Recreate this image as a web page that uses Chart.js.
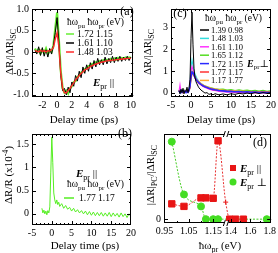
<!DOCTYPE html>
<html>
<head>
<meta charset="utf-8">
<script src="https://cdn.jsdelivr.net/npm/chart.js@4.4.0/dist/chart.umd.min.js"></script>
<style>
html, body { margin: 0; padding: 0; background: #fff; }
#wrap { position: relative; width: 278px; height: 253px; overflow: hidden; }
canvas { position: absolute; }
</style>
</head>
<body>
<div id="wrap">
  <canvas id="chart-a" width="138" height="125" style="left:0;top:0"></canvas>
  <canvas id="chart-c" width="140" height="125" style="left:138px;top:0"></canvas>
  <canvas id="chart-b" width="138" height="128" style="left:0;top:125px"></canvas>
  <canvas id="chart-d" width="140" height="128" style="left:138px;top:125px"></canvas>
</div>
<script>
// ---- panel (a): E_pr parallel, normalised dR
var timeA = [-3, -2.75, -2.5, -2.25, -2, -1.75, -1.5, -1.25, -1, -0.75, -0.5, -0.25, 0, 0.25, 0.5, 0.75, 1, 1.25, 1.5, 1.75, 2,
    2.25, 2.5, 2.75, 3, 3.25, 3.5, 3.75, 4, 4.25, 4.5, 4.75, 5, 5.25, 5.5, 5.75, 6, 6.25, 6.5, 6.75, 7,
    7.25, 7.5, 7.75, 8, 8.25, 8.5, 8.75, 9, 9.25, 9.5, 9.75, 10];
var a172 = [0.08, 0.00, 0.06, -0.04, 0.05, -0.02, 0.08, -0.05, 0.04, 0.00, 0.15, 0.55,
    0.92, 0.25, -0.45, -0.85, -0.95, -0.90, -0.97, -0.85, -0.80,
    -0.70, -0.68, -0.58, -0.55, -0.48, -0.46, -0.40, -0.38, -0.33, -0.33, -0.28, -0.28,
    -0.24, -0.25, -0.21, -0.23, -0.19, -0.21, -0.18, -0.20, -0.16, -0.19, -0.15, -0.18,
    -0.14, -0.17, -0.14, -0.16, -0.13, -0.15, -0.13, -0.14];
var a161 = [0.05, -0.05, 0.12, -0.08, 0.10, -0.10, 0.05, -0.12, 0.08, -0.05, 0.15, 0.45,
    0.80, 0.20, -0.55, -0.90, -0.85, -1.00, -0.82, -0.95, -0.70,
    -0.80, -0.55, -0.68, -0.45, -0.60, -0.35, -0.50, -0.30, -0.45, -0.25, -0.40, -0.20,
    -0.35, -0.15, -0.30, -0.18, -0.30, -0.12, -0.28, -0.15, -0.25, -0.10, -0.25, -0.12,
    -0.22, -0.10, -0.22, -0.12, -0.20, -0.10, -0.20, -0.12];
var a148 = [0.03, 0.02, 0.00, 0.04, 0.01, 0.03, 0.00, 0.03, 0.02, 0.05, 0.10, 0.30,
    0.45, 0.10, -0.50, -0.85, -0.95, -0.95, -0.90, -0.85, -0.78,
    -0.72, -0.65, -0.60, -0.55, -0.50, -0.46, -0.42, -0.40, -0.37, -0.34, -0.32, -0.30,
    -0.28, -0.27, -0.25, -0.24, -0.23, -0.22, -0.21, -0.20, -0.20, -0.19, -0.19, -0.18,
    -0.18, -0.17, -0.17, -0.16, -0.16, -0.15, -0.15, -0.15];
var aXTicks = [-2, 0, 2, 4, 6, 8, 10];
var aYTicks = [-1, -0.5, 0, 0.5, 1];
var aYLabels = ['-1.0', '-0.5', '0', '0.5', '1.0'];

// ---- panel (b): dR/R, 1.77 / 1.17 eV
var timeB = [-2.5, -2.25, -2, -1.75, -1.5, -1.25, -1, -0.75, -0.5, -0.25, 0, 0.25, 0.5, 0.75, 1, 1.25, 1.5, 1.75, 2,
    2.5, 3, 3.5, 4, 4.5, 5, 5.5, 6, 6.5, 7, 7.5, 8, 8.5, 9, 9.5, 10,
    10.5, 11, 11.5, 12, 12.5, 13, 13.5, 14, 14.5, 15, 15.5, 16, 16.5, 17, 17.5, 18, 18.5, 19, 19.5, 20];
var b177 = [0.12, 0.02, 0.08, 0.00, 0.06, -0.02, 0.07, 0.02, 0.15, 0.90, 1.65, 1.10, 0.45, 0.30, 0.22, 0.30, 0.20, 0.25, 0.16,
    0.22, 0.12, 0.18, 0.10, 0.14, 0.06, 0.12, 0.04, 0.09, 0.02, 0.07, 0.00, 0.06, -0.02, 0.05, -0.03,
    0.04, -0.04, 0.03, -0.04, 0.03, -0.05, 0.02, -0.05, 0.03, -0.06, 0.02, -0.05, 0.01, -0.07, 0.02, -0.06, 0.00, -0.08, 0.00, -0.06];
var timeXTicks = [-5, 0, 5, 10, 15, 20];
var bYTicks = [0, 0.5, 1, 1.5];

// ---- panel (c): E_pr perpendicular, normalised dR
var timeC = [-3, -2.75, -2.5, -2.25, -2, -1.75, -1.5, -1.25, -1, -0.75, -0.5, -0.25, 0, 0.25, 0.5, 0.75, 1, 1.25, 1.5, 1.75, 2,
    2.5, 3, 3.5, 4, 4.5, 5, 5.5, 6, 7, 8, 9, 10, 11, 12, 13, 14, 15, 16, 17, 18, 19, 20];
var c139 = [0.10, -0.05, 0.15, 0.00, 0.20, -0.05, 0.10, 0.05, 0.25, 0.00, 0.20, 0.60,
    2.50, 3.70, 2.20, 1.10, 0.70, 0.50, 0.40, 0.30, 0.22,
    0.12, 0.05, -0.02, 0.00, -0.08, -0.05, -0.10, -0.05,
    -0.10, -0.06, -0.10, -0.05, -0.08, -0.03, -0.06, -0.02, -0.05, 0.00, -0.04, 0.00, -0.03, 0.00];
var c148 = [0.05, 0.10, 0.00, 0.08, 0.02, 0.10, 0.03, 0.08, 0.05, 0.10, 0.12, 0.40,
    1.20, 1.50, 1.25, 1.00, 0.85, 0.75, 0.65, 0.58, 0.50,
    0.42, 0.35, 0.30, 0.25, 0.22, 0.18, 0.16, 0.14,
    0.10, 0.08, 0.07, 0.05, 0.06, 0.04, 0.05, 0.03, 0.04, 0.02, 0.04, 0.02, 0.03, 0.02];
var c161 = [0.05, 0.35, 0.05, 0.10, 0.00, 0.08, 0.02, 0.10, 0.03, 0.08, 0.10, 0.35,
    1.00, 1.20, 1.05, 0.85, 0.72, 0.62, 0.55, 0.48, 0.42,
    0.35, 0.28, 0.24, 0.20, 0.16, 0.14, 0.10, 0.10,
    0.06, 0.05, 0.02, 0.03, 0.00, 0.02, -0.01, 0.01, -0.02, 0.00, -0.02, 0.00, -0.03, -0.01];
var c165 = [0.12, 0.02, 0.15, 0.05, 0.10, 0.00, 0.12, 0.04, 0.10, 0.05, 0.12, 0.30,
    0.80, 1.00, 0.95, 0.82, 0.72, 0.65, 0.58, 0.52, 0.48,
    0.40, 0.35, 0.30, 0.28, 0.24, 0.22, 0.20, 0.18,
    0.15, 0.16, 0.12, 0.14, 0.10, 0.13, 0.09, 0.12, 0.08, 0.11, 0.07, 0.10, 0.06, 0.09];
var c172 = [0.08, 0.00, 0.10, 0.02, 0.08, 0.04, 0.06, 0.00, 0.08, 0.02, 0.10, 0.30,
    0.75, 0.95, 0.92, 0.80, 0.70, 0.62, 0.55, 0.50, 0.45,
    0.38, 0.32, 0.27, 0.24, 0.20, 0.17, 0.15, 0.13,
    0.10, 0.08, 0.06, 0.06, 0.04, 0.05, 0.03, 0.04, 0.02, 0.03, 0.01, 0.02, 0.00, 0.01];
var c177 = [0.04, 0.08, 0.02, 0.06, 0.00, 0.06, 0.02, 0.07, 0.03, 0.06, 0.08, 0.25,
    0.70, 0.90, 0.88, 0.78, 0.68, 0.60, 0.54, 0.48, 0.44,
    0.37, 0.31, 0.27, 0.23, 0.20, 0.17, 0.15, 0.13,
    0.10, 0.09, 0.07, 0.06, 0.05, 0.05, 0.04, 0.04, 0.03, 0.03, 0.02, 0.03, 0.02, 0.02];
var c117 = [0.06, 0.03, 0.08, 0.02, 0.06, 0.03, 0.07, 0.02, 0.06, 0.04, 0.08, 0.20,
    0.60, 0.85, 0.90, 0.82, 0.74, 0.66, 0.60, 0.55, 0.50,
    0.42, 0.36, 0.31, 0.27, 0.24, 0.21, 0.19, 0.17,
    0.14, 0.12, 0.10, 0.09, 0.08, 0.07, 0.07, 0.06, 0.05, 0.05, 0.04, 0.04, 0.04, 0.03];
var cYTicks = [0, 1, 2, 3];
var cLegend = [['1.39 0.98', '#000000'], ['1.48 1.03', '#33dddd'], ['1.61 1.10', '#ff33ff'], ['1.65 1.12', '#55dd22'],
    ['1.72 1.15', '#2a2aff'], ['1.77 1.17', '#ff3333'], ['1.17 1.77', '#ffaa33']];

// ---- panel (d): |dR|PC / |dR|SC against probe energy
var dProbePar = [0.98, 1.03, 1.10, 1.12, 1.15, 1.17, 1.30, 1.39, 1.45, 1.53];
var dRatioPar = [0.18, 0.15, 0.25, 0.25, 0.245, 0.92, 0.20, 0, 0, 0];
var dProbePerp = [0.98, 1.03, 1.10, 1.12, 1.15, 1.17, 1.77];
var dRatioPerp = [0.91, 0.29, 0.15, 0, 0, 0, 0];
var dXTicks = [0.95, 1.05, 1.15, 1.4, 1.6, 1.8];
var dXLabels = ['0.95', '1.05', '1.15', '1.4', '1.6', '1.8'];

var serif = "'Liberation Serif', 'Times New Roman', Times, 'Nimbus Roman', 'DejaVu Serif', serif";
Chart.defaults.font.family = serif;
Chart.defaults.font.size = 10;
Chart.defaults.color = '#000';

// broken energy axis: 0.95-1.2 eV wide, 1.35-1.8 eV compressed
function probeToAxis(e) {
    if (e <= 1.2) return (e - 0.95) * 250;
    if (e >= 1.35) return 68 + (e - 1.4) * 100;
    return 62.5 + (e - 1.2) / 0.15 * 0.5;
}

function points(xs, ys) {
    return xs.map(function (x, i) { return { x: x, y: ys[i] }; });
}

function steps(a, b, s) {
    var out = [];
    for (var v = a; v <= b + 1e-9; v += s) out.push(Math.round(v * 1000) / 1000);
    return out;
}

// text with sub/superscripts and bold italic parts
function rich(ctx, parts, x, y, o) {
    o = o || {};
    var size = o.size || 10;
    var segs = parts.map(function (p) {
        var t = Array.isArray(p) ? p[0] : p;
        var s = Array.isArray(p) ? p[1] : '';
        var small = (s === 'sub' || s === 'sup');
        var fs = small ? Math.round(size * 0.72) : size;
        var font = (s === 'bi' ? 'italic bold ' : '') + fs + 'px ' + serif;
        ctx.font = font;
        return { t: t, font: font, w: ctx.measureText(t).width,
                 dy: s === 'sub' ? size * 0.28 : (s === 'sup' ? -size * 0.38 : 0) };
    });
    var total = segs.reduce(function (acc, g) { return acc + g.w; }, 0);
    ctx.save();
    ctx.translate(x, y);
    if (o.rot) ctx.rotate(o.rot);
    ctx.fillStyle = o.color || '#000';
    ctx.textBaseline = 'alphabetic';
    ctx.textAlign = 'left';
    var cx = o.align === 'left' ? 0 : -total / 2;
    segs.forEach(function (g) {
        ctx.font = g.font;
        ctx.fillText(g.t, cx, g.dy + size * 0.35);
        cx += g.w;
    });
    ctx.restore();
}

function legendLine(ctx, x1, x2, y, color, w) {
    ctx.save();
    ctx.strokeStyle = color;
    ctx.lineWidth = w || 1.5;
    ctx.beginPath();
    ctx.moveTo(x1, y);
    ctx.lineTo(x2, y);
    ctx.stroke();
    ctx.restore();
}

// box round the plot with inward ticks on all four sides
function makeFrame(cfg) {
    return {
        id: 'frame',
        afterDraw: function (chart) {
            var ctx = chart.ctx, a = chart.chartArea;
            var sx = chart.scales.x, sy = chart.scales.y;
            ctx.save();
            ctx.strokeStyle = '#000';
            ctx.lineWidth = 1;
            ctx.strokeRect(Math.round(a.left) + 0.5, Math.round(a.top) + 0.5,
                Math.round(a.right - a.left) - 1, Math.round(a.bottom - a.top) - 1);
            ctx.beginPath();
            function mark(vals, len, horiz) {
                vals.forEach(function (v) {
                    var p;
                    if (horiz) {
                        p = Math.round(sx.getPixelForValue(v)) + 0.5;
                        if (p < a.left + 1 || p > a.right - 1) return;
                        ctx.moveTo(p, a.bottom); ctx.lineTo(p, a.bottom - len);
                        ctx.moveTo(p, a.top); ctx.lineTo(p, a.top + len);
                    } else {
                        p = Math.round(sy.getPixelForValue(v)) + 0.5;
                        if (p < a.top + 1 || p > a.bottom - 1) return;
                        ctx.moveTo(a.left, p); ctx.lineTo(a.left + len, p);
                        ctx.moveTo(a.right, p); ctx.lineTo(a.right - len, p);
                    }
                });
            }
            mark(cfg.xMajor, 4, true);
            mark(cfg.xMinor, 2, true);
            mark(cfg.yMajor, 4, false);
            mark(cfg.yMinor, 2, false);
            ctx.stroke();
            if (cfg.breakAt != null) {
                var bp = sx.getPixelForValue(cfg.breakAt);
                [a.top, a.bottom].forEach(function (yy) {
                    ctx.fillStyle = '#fff';
                    ctx.fillRect(bp - 2, yy - 2, 4, 4);
                    ctx.beginPath();
                    ctx.moveTo(bp - 3, yy + 3); ctx.lineTo(bp - 1, yy - 3);
                    ctx.moveTo(bp + 0.5, yy + 3); ctx.lineTo(bp + 2.5, yy - 3);
                    ctx.stroke();
                });
            }
            ctx.restore();
        }
    };
}

function axisX(min, max, ticks, labels, height) {
    return {
        type: 'linear', min: min, max: max,
        grid: { display: false, drawTicks: false },
        border: { display: false },
        ticks: { autoSkip: false, maxRotation: 0, padding: 2,
                 callback: function (v, i) { return labels[i]; } },
        afterBuildTicks: function (s) { s.ticks = ticks.map(function (v) { return { value: v }; }); },
        afterFit: function (s) { s.height = height; }
    };
}

function axisY(min, max, ticks, labels, width) {
    return {
        type: 'linear', min: min, max: max,
        grid: { display: false, drawTicks: false },
        border: { display: false },
        ticks: { autoSkip: false, padding: 3,
                 callback: function (v, i) { return labels[i]; } },
        afterBuildTicks: function (s) { s.ticks = ticks.map(function (v) { return { value: v }; }); },
        afterFit: function (s) { s.width = width; }
    };
}

function makeChart(id, datasets, xs, ys, pad, frame, deco) {
    return new Chart(document.getElementById(id), {
        type: 'line',
        data: { datasets: datasets },
        options: {
            responsive: false,
            animation: false,
            layout: { padding: pad, autoPadding: false },
            plugins: { legend: { display: false }, tooltip: { enabled: false } },
            elements: { point: { radius: 0 }, line: { tension: 0 } },
            scales: { x: xs, y: ys }
        },
        plugins: [makeFrame(frame), { id: 'deco', afterDraw: function (c) { deco(c.ctx); } }]
    });
}

function trace(xs, ys, color, width) {
    return { data: points(xs, ys), borderColor: color, borderWidth: width, pointRadius: 0, fill: false };
}

var hwHeader = ['\u0127\u03c9', ['pu', 'sub'], ' \u0127\u03c9', ['pr', 'sub'], ' (eV)'];
var ySC = ['\u0394R/|\u0394R|', ['SC', 'sub']];

// (a)
makeChart('chart-a',
    [trace(timeA, a148, '#ff2a2a', 1.4), trace(timeA, a161, '#000000', 1), trace(timeA, a172, '#66ee33', 2.2)],
    axisX(-3.4, 10.3, aXTicks, aXTicks.map(String), 28),
    axisY(-1.05, 1.0, aYTicks, aYLabels, 32),
    { left: 0, right: 3, top: 5, bottom: 0 },
    { xMajor: aXTicks, xMinor: steps(-3, 10, 1), yMajor: aYTicks, yMinor: steps(-1, 1, 0.25) },
    function (ctx) {
        rich(ctx, ySC, 9, 52, { rot: -Math.PI / 2, size: 11 });
        rich(ctx, ['Delay time (ps)'], 84, 119, { size: 11 });
        rich(ctx, ['(a)'], 127, 11, { size: 12 });
        rich(ctx, hwHeader, 67, 22, { align: 'left', size: 9.5 });
        [['1.72 1.15', '#66ee33', 34], ['1.61 1.10', '#000000', 43], ['1.48 1.03', '#ff2a2a', 52]].forEach(function (r) {
            legendLine(ctx, 66, 74, r[2], r[1], 1.5);
            rich(ctx, [r[0]], 77, r[2], { align: 'left', size: 9.5 });
        });
        rich(ctx, [['E', 'bi'], ['pr', 'sub'], ' ||'], 93, 82, { align: 'left', size: 11 });
    });

// (b)
makeChart('chart-b',
    [trace(timeB, b177, '#55ee22', 1)],
    axisX(-5, 20, timeXTicks, timeXTicks.map(String), 28),
    axisY(-0.24, 1.72, bYTicks, bYTicks.map(String), 32),
    { left: 0, right: 1, top: 2, bottom: 0 },
    { xMajor: timeXTicks, xMinor: steps(-5, 20, 1), yMajor: bYTicks, yMinor: steps(-0.25, 1.75, 0.25) },
    function (ctx) {
        rich(ctx, ['\u0394R/R (x10', ['-4', 'sup'], ')'], 8, 50, { rot: -Math.PI / 2, size: 11 });
        rich(ctx, ['Delay time (ps)'], 85, 120, { size: 11 });
        rich(ctx, ['(b)'], 125, 8, { size: 12 });
        rich(ctx, [['E', 'bi'], ['pr', 'sub'], ' ||'], 76, 48, { align: 'left', size: 11 });
        rich(ctx, hwHeader, 67, 59, { align: 'left', size: 9.5 });
        legendLine(ctx, 64, 74, 73, '#55ee22', 1.5);
        rich(ctx, ['1.77 1.17'], 79, 73, { align: 'left', size: 9.5 });
    });

// (c)
makeChart('chart-c',
    [trace(timeC, c139, '#000000', 1), trace(timeC, c172, '#2a2aff', 1.6), trace(timeC, c177, '#ff3333', 1.2),
     trace(timeC, c117, '#ffaa33', 1.2), trace(timeC, c161, '#ff33ff', 1.2), trace(timeC, c148, '#33dddd', 1.2),
     trace(timeC, c165, '#55dd22', 1.2)],
    axisX(-5, 20, timeXTicks, timeXTicks.map(String), 28),
    axisY(-0.2, 3.85, cYTicks, cYTicks.map(String), 33),
    { left: 0, right: 7, top: 3, bottom: 0 },
    { xMajor: timeXTicks, xMinor: steps(-5, 20, 1), yMajor: cYTicks, yMinor: steps(0, 3.5, 0.5) },
    function (ctx) {
        rich(ctx, ySC, 9, 52, { rot: -Math.PI / 2, size: 11 });
        rich(ctx, ['Delay time (ps)'], 83, 119, { size: 11 });
        rich(ctx, ['(c)'], 42, 13, { size: 12 });
        rich(ctx, hwHeader, 67, 18, { align: 'left', size: 9.5 });
        cLegend.forEach(function (r, i) {
            var y = 30 + i * 8.4;
            legendLine(ctx, 62, 71, y, r[1], 1.5);
            rich(ctx, [r[0]], 73, y, { align: 'left', size: 8.5 });
        });
        rich(ctx, [['E', 'bi'], ['pr', 'sub'], '\u22a5'], 109, 63, { align: 'left', size: 10 });
    });

// (d)
var dPar = points(dProbePar.map(probeToAxis), dRatioPar);
var dPerp = points(dProbePerp.map(probeToAxis), dRatioPerp);
makeChart('chart-d',
    [{ data: dPar, borderColor: '#e83030', borderWidth: 1, borderDash: [2, 1.5], cubicInterpolationMode: 'monotone',
       pointStyle: dProbePar.map(function (e) { return e === 1.30 ? 'cross' : 'rect'; }),
       pointRadius: dProbePar.map(function (e) { return e === 1.30 ? 2.5 : 4.5; }),
       pointBackgroundColor: '#e81515', pointBorderColor: '#e81515', pointBorderWidth: 1 },
     { data: dPerp, borderColor: '#44cc22', borderWidth: 1, borderDash: [2, 1.5], cubicInterpolationMode: 'monotone',
       pointStyle: 'circle', pointRadius: 3.5,
       pointBackgroundColor: '#44dd22', pointBorderColor: '#44dd22', pointBorderWidth: 1 }],
    axisX(-0.5, 109.5, dXTicks.map(probeToAxis), dXLabels, 30),
    axisY(-0.045, 1.0, [0], ['0'], 26),
    { left: 0, right: 4, top: 5, bottom: 0 },
    { xMajor: dXTicks.map(probeToAxis),
      xMinor: steps(0.95, 1.2, 0.05).concat(steps(1.4, 1.8, 0.1)).map(probeToAxis),
      yMajor: [0], yMinor: [], breakAt: 63.5 },
    function (ctx) {
        rich(ctx, ['|\u0394R|', ['PC', 'sub'], '/|\u0394R|', ['SC', 'sub']], 12, 50, { rot: -Math.PI / 2, size: 11 });
        rich(ctx, ['\u0127\u03c9', ['pr', 'sub'], ' (eV)'], 82, 120, { size: 11 });
        rich(ctx, ['(d)'], 122, 17, { size: 12 });
        ctx.fillStyle = '#e81515';
        ctx.fillRect(92, 40, 6, 6);
        rich(ctx, [['E', 'bi'], ['pr', 'sub'], ' ||'], 102, 43, { align: 'left', size: 11 });
        ctx.fillStyle = '#44dd22';
        ctx.beginPath();
        ctx.arc(95, 57, 3.5, 0, Math.PI * 2);
        ctx.fill();
        rich(ctx, [['E', 'bi'], ['pr', 'sub'], ' \u22a5'], 102, 57, { align: 'left', size: 11 });
    });
</script>
</body>
</html>
